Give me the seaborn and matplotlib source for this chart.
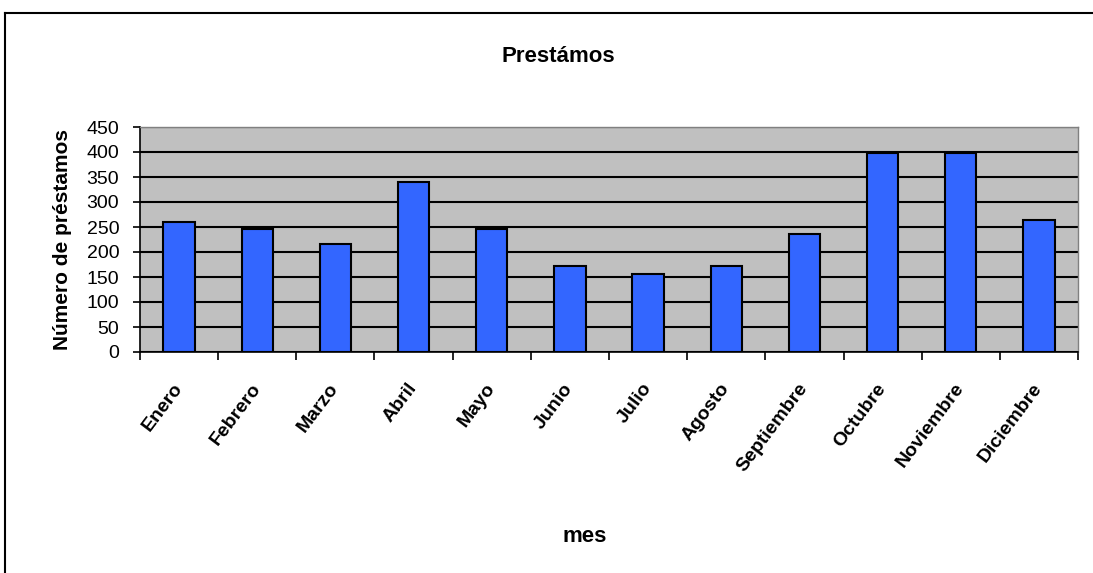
import matplotlib
matplotlib.use("Agg")
import matplotlib.pyplot as plt
import seaborn as sns
import pandas as pd
import numpy as np
from matplotlib.lines import Line2D

# ======================= Data =======================
meses = ["Enero", "Febrero", "Marzo", "Abril", "Mayo", "Junio", "Julio",
         "Agosto", "Septiembre", "Octubre", "Noviembre", "Diciembre"]
prestamos = [260, 247, 216, 340, 247, 173, 156, 173, 236, 398, 398, 264]
y_ticks = [0, 50, 100, 150, 200, 250, 300, 350, 400, 450]

df = pd.DataFrame({"mes": meses, "prestamos": prestamos})

# ======================= Figure =======================
plt.rcParams['font.family'] = ['Liberation Sans', 'DejaVu Sans']

fig = plt.figure(figsize=(10.93, 5.73), dpi=100)
ax = fig.add_axes([140 / 1093, 1 - 352 / 573, (1078 - 140) / 1093, (352 - 127) / 573])
ax.set_facecolor("#C0C0C0")

sns.barplot(data=df, x="mes", y="prestamos", ax=ax, color="#3366FF",
            width=0.4, edgecolor="black", linewidth=1.5, saturation=1, zorder=3)

ax.set_ylim(0, 450)
ax.set_xlim(-0.5, len(meses) - 0.5)
ax.set_yticks(y_ticks)
ax.yaxis.grid(True, color="black", linewidth=1.5, zorder=1)
ax.set_axisbelow(True)

# ticks at category boundaries, labels at centres
ax.set_xticks(np.arange(len(meses)))
ax.set_xticklabels(meses, rotation=53, ha="right", va="center",
                   rotation_mode="anchor", fontsize=14, fontweight="bold")
ax.set_xticks(np.arange(len(meses) + 1) - 0.5, minor=True)
ax.tick_params(axis="x", which="major", length=0, pad=24)
ax.tick_params(axis="x", which="minor", length=6, width=1.2, direction="out")
ax.tick_params(axis="y", length=5, width=1.2, labelsize=14, pad=10)

for side in ["top", "right"]:
    ax.spines[side].set_color("#808080")
    ax.spines[side].set_linewidth(1)
ax.spines["left"].set_linewidth(1.2)
ax.spines["bottom"].set_linewidth(1.2)

ax.set_xlabel("")
ax.set_ylabel("")
fig.text(62 / 1093, 1 - 240 / 573, "Número de préstamos", rotation=90,
         ha="center", va="center", fontsize=15, fontweight="bold")
fig.text(585 / 1093, 1 - 536 / 573, "mes", ha="center", va="center",
         fontsize=16, fontweight="bold")
fig.text(558 / 1093, 1 - 57 / 573, "Prestámos", ha="center", va="center",
         fontsize=16, fontweight="bold")

# chart-area frame (top and left edges visible)
fig.add_artist(Line2D([5 / 1093, 1], [1 - 13 / 573, 1 - 13 / 573],
                      transform=fig.transFigure, color="black", linewidth=1.5))
fig.add_artist(Line2D([5 / 1093, 5 / 1093], [0, 1 - 13 / 573],
                      transform=fig.transFigure, color="black", linewidth=1.5))

fig.savefig("out.png", dpi=100, facecolor="white")
